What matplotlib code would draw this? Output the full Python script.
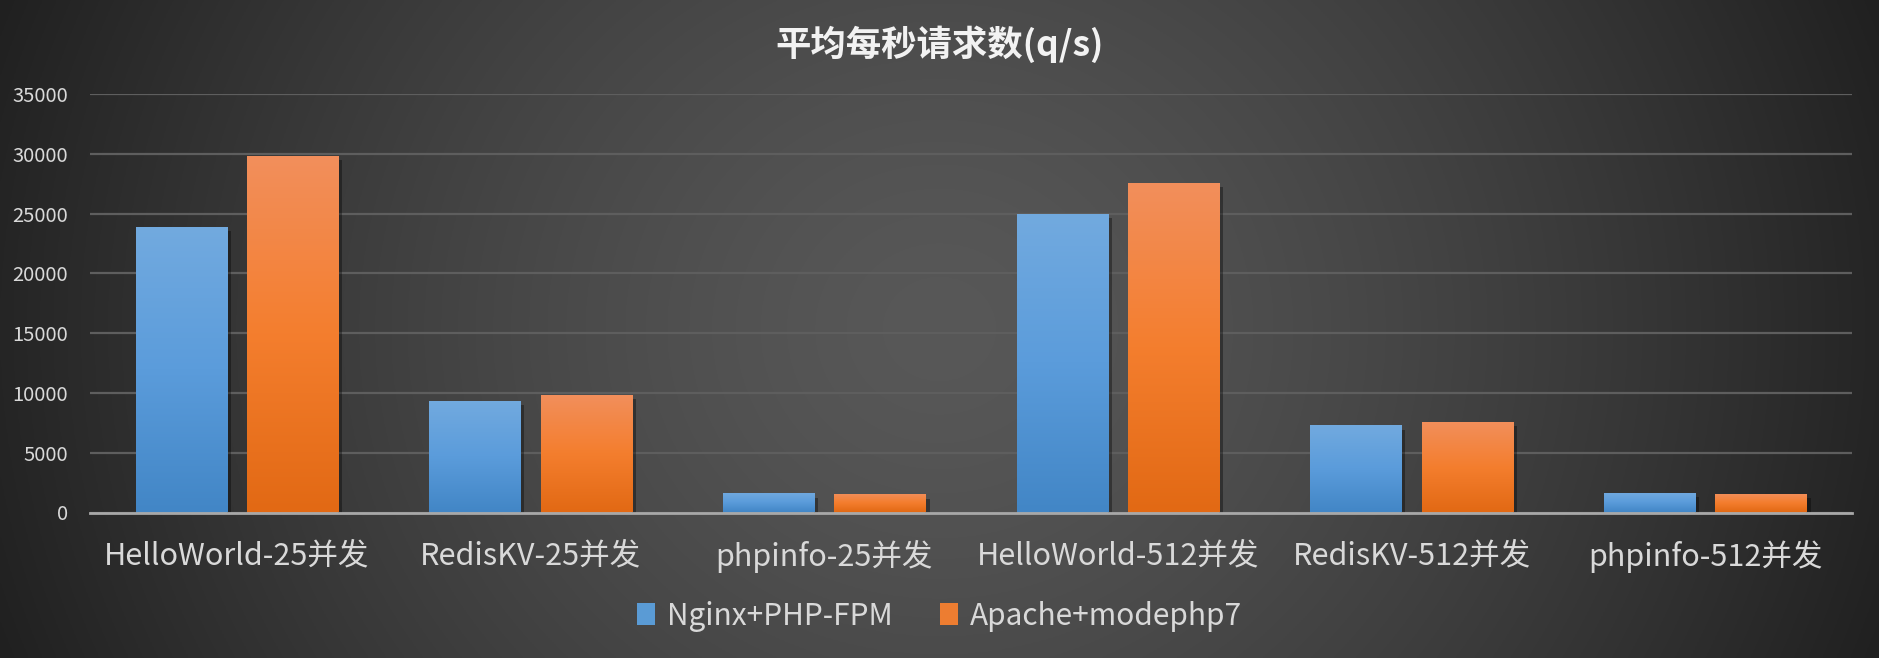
import numpy as np
import matplotlib
matplotlib.use('Agg')
import matplotlib.pyplot as plt
from matplotlib.colors import LinearSegmentedColormap
from matplotlib.patches import Patch
import matplotlib.patheffects as pe

plt.rcParams['font.family'] = ['Noto Sans CJK SC', 'DejaVu Sans']

# ---- data ----
title = '平均每秒请求数(q/s)'
categories = ['HelloWorld-25并发', 'RedisKV-25并发', 'phpinfo-25并发',
              'HelloWorld-512并发', 'RedisKV-512并发', 'phpinfo-512并发']
series_names = ['Nginx+PHP-FPM', 'Apache+modephp7']
nginx = [23870, 9300, 1590, 24950, 7280, 1610]
apache = [29840, 9810, 1510, 27530, 7610, 1530]
yticks = [0, 5000, 10000, 15000, 20000, 25000, 30000, 35000]

W, H = 1879, 658
fig = plt.figure(figsize=(W / 100, H / 100), dpi=100)

# background radial gradient
bg = fig.add_axes([0, 0, 1, 1])
bg.axis('off')
gx = np.linspace(-1, 1, 940)
gy = np.linspace(-1, 1, 330)
X, Y = np.meshgrid(gx, gy)
R = np.sqrt(X ** 2 + (Y * 0.38) ** 2)
R = np.clip(R / np.sqrt(1 + 0.38 ** 2), 0, 1)
c_center, c_edge = 0x58 / 255, 0x20 / 255
val = c_center + (c_edge - c_center) * R ** 1.4
bg.imshow(np.dstack([val, val, val]), extent=[0, 1, 0, 1], aspect='auto', origin='lower')
bg.set_xlim(0, 1)
bg.set_ylim(0, 1)

# main axes
left, right = 90, 1852
top, base = 94, 512.5
ax = fig.add_axes([left / W, 1 - base / H, (right - left) / W, (base - top) / H])
ax.patch.set_alpha(0)

x = np.arange(len(categories))
bw = 0.31
off = 0.19
shadow = [pe.SimplePatchShadow(offset=(3, -3), shadow_rgbFace='black', alpha=0.35), pe.Normal()]
b1 = ax.bar(x - off, nginx, bw, color='#5a9bd5', zorder=3, path_effects=shadow)
b2 = ax.bar(x + off, apache, bw, color='#ed7d31', zorder=3, path_effects=shadow)

cmap_blue = LinearSegmentedColormap.from_list('b', ['#4286c6', '#5b9cdb', '#72aadf'])
cmap_orange = LinearSegmentedColormap.from_list('o', ['#e26914', '#f47e2e', '#f28f5c'])
grad = np.linspace(0, 1, 256).reshape(-1, 1)
for bars, cm in ((b1, cmap_blue), (b2, cmap_orange)):
    for b in bars:
        im = ax.imshow(grad, extent=[b.get_x(), b.get_x() + b.get_width(), 0, b.get_height()],
                       aspect='auto', cmap=cm, origin='lower', zorder=3.5, interpolation='bilinear')
        im.set_clip_path(b)

ax.set_xlim(-0.5, len(categories) - 0.5)
ax.set_ylim(0, 35000)
ax.set_aspect('auto')
ax.set_yticks(yticks)
ax.set_yticklabels([str(v) for v in yticks])
ax.set_xticks(x)
ax.set_xticklabels(categories)
ax.yaxis.grid(True, color='#5e5e5e', lw=1.6)
ax.set_axisbelow(True)
for s in ('top', 'right', 'left'):
    ax.spines[s].set_visible(False)
ax.spines['bottom'].set_color('#a8a8a8')
ax.spines['bottom'].set_linewidth(2)
ax.spines['bottom'].set_zorder(5)
ax.tick_params(axis='y', length=0, pad=16, labelsize=14.5, labelcolor='#d9d9d9')
ax.tick_params(axis='x', length=0, pad=20, labelsize=22, labelcolor='#d9d9d9')

fig.text(0.5, 1 - 44 / H, title, ha='center', va='center', fontsize=25.5,
         fontweight='bold', color='#f2f2f2')

handles = [Patch(facecolor='#5a9bd5'), Patch(facecolor='#ed7d31')]
fig.legend(handles, series_names, loc='center', bbox_to_anchor=(0.5, 1 - 616 / H), ncol=2,
           frameon=False, fontsize=21.5, labelcolor='#d9d9d9', handlelength=0.6,
           handleheight=0.75, handletextpad=0.4, columnspacing=1.6)

fig.savefig('out.png', dpi=100)
